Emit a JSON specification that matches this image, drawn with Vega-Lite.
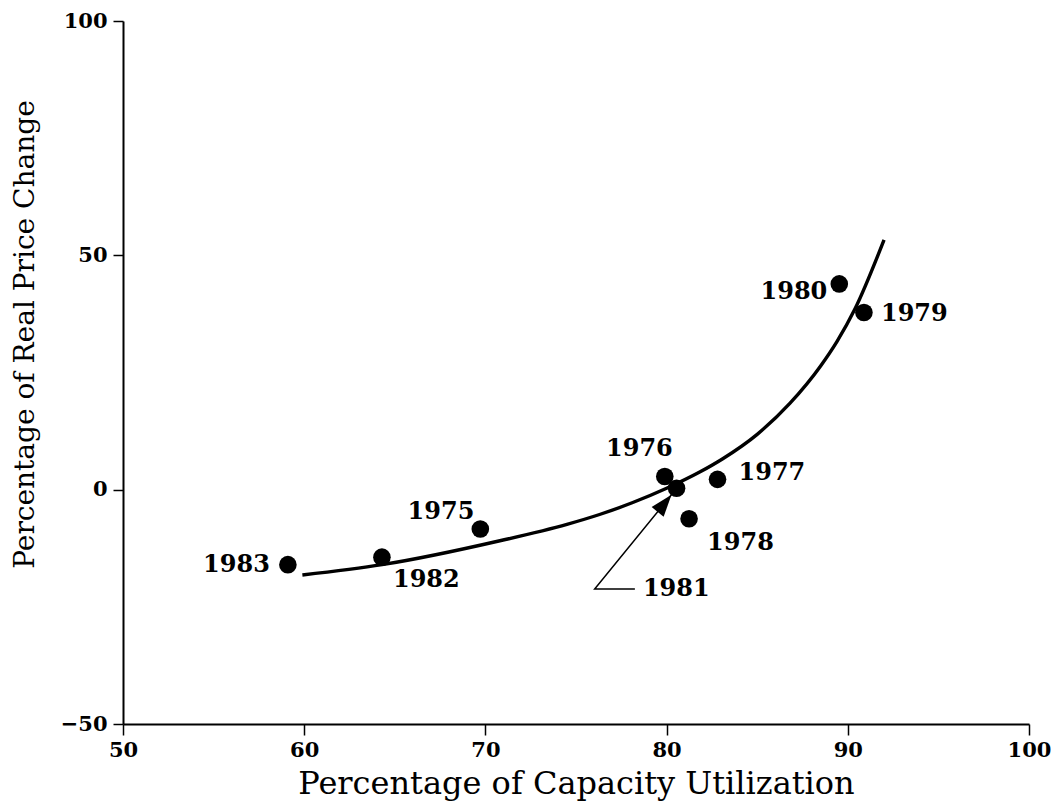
{
  "$schema": "https://vega.github.io/schema/vega-lite/v6.json",
  "width": 906,
  "height": 703,
  "autosize": {"type": "none"},
  "padding": {"left": 123, "top": 21, "right": 24, "bottom": 78},
  "background": "white",
  "config": {"view": {"stroke": null}},
  "datasets": {
    "pts": [
      {"label": "1975", "x": 69.72, "y": -8.4},
      {"label": "1976", "x": 79.9, "y": 2.8},
      {"label": "1977", "x": 82.81, "y": 2.2},
      {"label": "1978", "x": 81.24, "y": -6.2},
      {"label": "1979", "x": 90.89, "y": 37.8},
      {"label": "1980", "x": 89.53, "y": 43.9},
      {"label": "1981", "x": 80.55, "y": 0.3},
      {"label": "1982", "x": 64.29, "y": -14.4},
      {"label": "1983", "x": 59.1, "y": -16.0}
    ],
    "curve": [
      {"x": 59.9, "y": -18.2},
      {"x": 64.3, "y": -16.0},
      {"x": 70.8, "y": -10.9},
      {"x": 74.5, "y": -7.4},
      {"x": 76.3, "y": -5.3},
      {"x": 78.1, "y": -2.8},
      {"x": 80.0, "y": 0.3},
      {"x": 81.8, "y": 3.7},
      {"x": 83.1, "y": 6.6},
      {"x": 85.0, "y": 11.8},
      {"x": 86.8, "y": 18.4},
      {"x": 88.5, "y": 26.4},
      {"x": 89.4, "y": 31.6},
      {"x": 90.4, "y": 38.6},
      {"x": 92.0, "y": 53.3}
    ],
    "arrow": [
      {"o": 1, "x": 78.25, "y": -21.2, "label": "1981"},
      {"o": 2, "x": 76.03, "y": -21.2, "label": ""},
      {"o": 3, "x": 80.27, "y": -1.1, "label": ""}
    ]
  },
  "encoding": {
    "x": {
      "field": "x",
      "type": "quantitative",
      "scale": {"domain": [50, 100], "nice": false, "zero": false},
      "axis": {
        "values": [50, 60, 70, 80, 90, 100],
        "title": "Percentage of Capacity Utilization",
        "grid": false,
        "tickSize": 11,
        "tickWidth": 1.5,
        "tickColor": "black",
        "domainColor": "black",
        "domainWidth": 2,
        "labelFont": "DejaVu Serif",
        "labelFontWeight": "bold",
        "labelFontSize": 21,
        "labelColor": "black",
        "labelPadding": 4,
        "labelFlush": false,
        "titleFont": "DejaVu Serif",
        "titleFontSize": 32,
        "titleFontWeight": "normal",
        "titleColor": "black",
        "titleBaseline": "alphabetic",
        "titleX": 453,
        "titleY": 69
      }
    },
    "y": {
      "field": "y",
      "type": "quantitative",
      "scale": {"domain": [-50, 100], "nice": false, "zero": false},
      "axis": {
        "values": [-50, 0, 50, 100],
        "title": "Percentage of Real Price Change",
        "grid": false,
        "tickSize": 10,
        "tickWidth": 1.5,
        "tickColor": "black",
        "domainColor": "black",
        "domainWidth": 2,
        "labelFont": "DejaVu Serif",
        "labelFontWeight": "bold",
        "labelFontSize": 21,
        "labelColor": "black",
        "labelPadding": 6,
        "labelFlush": false,
        "titleFont": "DejaVu Serif",
        "titleFontSize": 28,
        "titleFontWeight": "normal",
        "titleColor": "black",
        "titleAngle": -90,
        "titleBaseline": "alphabetic",
        "titleX": -90,
        "titleY": 313
      }
    }
  },
  "layer": [
    {
      "data": {"values": [{}]},
      "mark": {"type": "rule", "color": "black", "strokeWidth": 1.3},
      "encoding": {
        "x": {"datum": 50, "type": "quantitative"},
        "x2": {"datum": 100},
        "y": {"datum": 0, "type": "quantitative"}
      }
    },
    {
      "data": {"name": "curve"},
      "mark": {"type": "line", "color": "black", "strokeWidth": 3.4, "interpolate": "monotone"}
    },
    {
      "data": {"name": "arrow"},
      "mark": {"type": "line", "color": "black", "strokeWidth": 1.5},
      "encoding": {"order": {"field": "o", "type": "quantitative"}}
    },
    {
      "data": {"name": "arrow"},
      "transform": [{"filter": "datum.o == 3"}],
      "mark": {"type": "point", "shape": "M0,0L0.7,2L-0.7,2Z", "filled": true, "color": "black", "opacity": 1, "size": 484, "angle": 39}
    },
    {
      "data": {"name": "pts"},
      "mark": {"type": "circle", "color": "black", "opacity": 1, "size": 310}
    },
    {
      "data": {"name": "arrow"},
      "transform": [{"filter": "datum.o == 1"}],
      "mark": {"type": "text", "font": "DejaVu Serif", "fontWeight": "bold", "fontSize": 24, "color": "black", "align": "left", "baseline": "middle", "dx": 8, "dy": 0},
      "encoding": {"text": {"field": "label"}}
    },
    {
      "data": {"name": "pts"},
      "transform": [{"filter": "datum.label == '1983'"}],
      "mark": {"type": "text", "font": "DejaVu Serif", "fontWeight": "bold", "fontSize": 24, "color": "black", "align": "right", "baseline": "middle", "dx": -18, "dy": 0},
      "encoding": {"text": {"field": "label"}}
    },
    {
      "data": {"name": "pts"},
      "transform": [{"filter": "datum.label == '1982'"}],
      "mark": {"type": "text", "font": "DejaVu Serif", "fontWeight": "bold", "fontSize": 24, "color": "black", "align": "left", "baseline": "middle", "dx": 11, "dy": 23},
      "encoding": {"text": {"field": "label"}}
    },
    {
      "data": {"name": "pts"},
      "transform": [{"filter": "datum.label == '1975'"}],
      "mark": {"type": "text", "font": "DejaVu Serif", "fontWeight": "bold", "fontSize": 24, "color": "black", "align": "right", "baseline": "middle", "dx": -6, "dy": -17},
      "encoding": {"text": {"field": "label"}}
    },
    {
      "data": {"name": "pts"},
      "transform": [{"filter": "datum.label == '1976'"}],
      "mark": {"type": "text", "font": "DejaVu Serif", "fontWeight": "bold", "fontSize": 24, "color": "black", "align": "right", "baseline": "middle", "dx": 8, "dy": -28},
      "encoding": {"text": {"field": "label"}}
    },
    {
      "data": {"name": "pts"},
      "transform": [{"filter": "datum.label == '1977'"}],
      "mark": {"type": "text", "font": "DejaVu Serif", "fontWeight": "bold", "fontSize": 24, "color": "black", "align": "left", "baseline": "middle", "dx": 21, "dy": -6},
      "encoding": {"text": {"field": "label"}}
    },
    {
      "data": {"name": "pts"},
      "transform": [{"filter": "datum.label == '1978'"}],
      "mark": {"type": "text", "font": "DejaVu Serif", "fontWeight": "bold", "fontSize": 24, "color": "black", "align": "left", "baseline": "middle", "dx": 18, "dy": 24},
      "encoding": {"text": {"field": "label"}}
    },
    {
      "data": {"name": "pts"},
      "transform": [{"filter": "datum.label == '1980'"}],
      "mark": {"type": "text", "font": "DejaVu Serif", "fontWeight": "bold", "fontSize": 24, "color": "black", "align": "right", "baseline": "middle", "dx": -12, "dy": 8},
      "encoding": {"text": {"field": "label"}}
    },
    {
      "data": {"name": "pts"},
      "transform": [{"filter": "datum.label == '1979'"}],
      "mark": {"type": "text", "font": "DejaVu Serif", "fontWeight": "bold", "fontSize": 24, "color": "black", "align": "left", "baseline": "middle", "dx": 17, "dy": 1},
      "encoding": {"text": {"field": "label"}}
    }
  ]
}
